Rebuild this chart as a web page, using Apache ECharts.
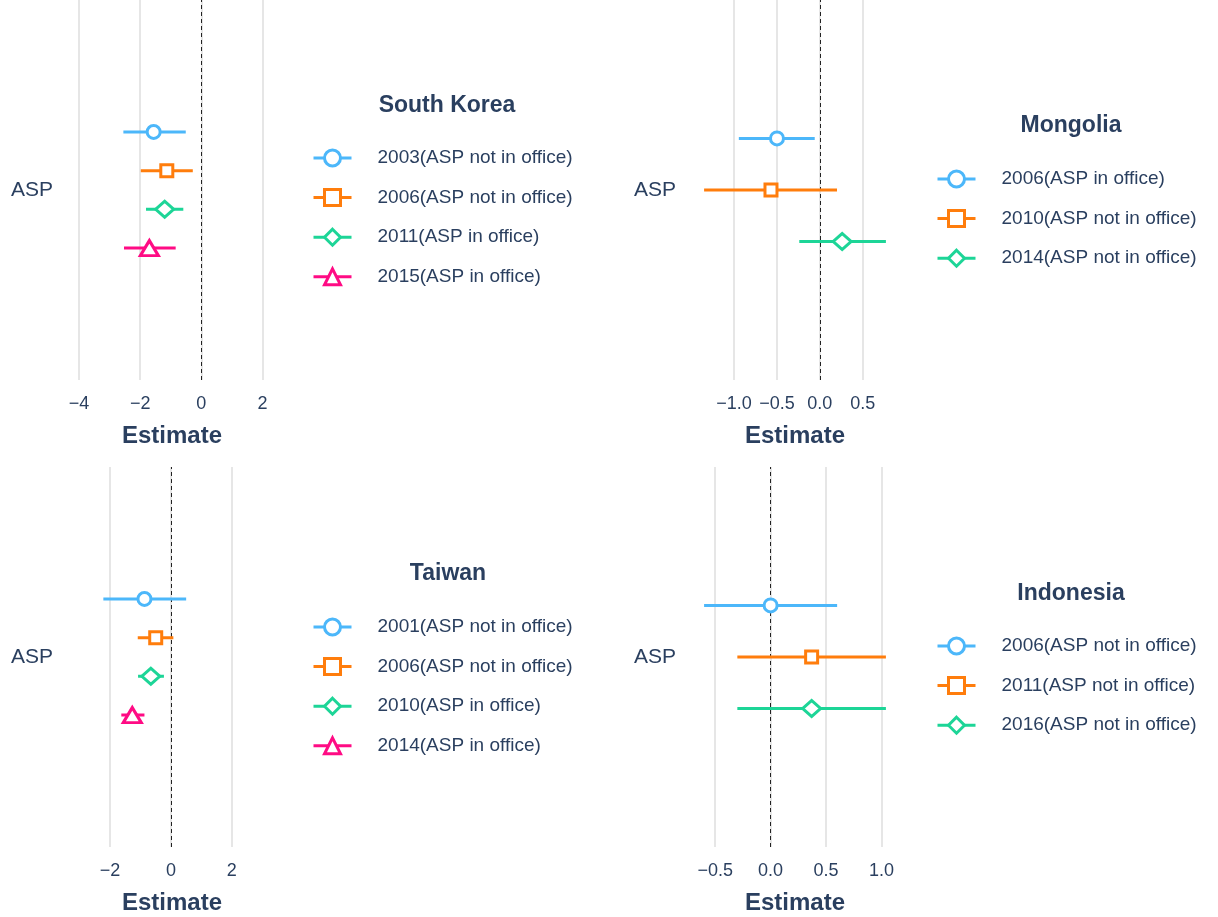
<!DOCTYPE html>
<html>
<head>
<meta charset="utf-8">
<title>ASP estimates by election year</title>
<script src="https://cdn.jsdelivr.net/npm/echarts@6/dist/echarts.min.js"></script>
<style>
  html, body { margin: 0; padding: 0; background: #fff; }
  #chart { width: 1218px; height: 917px; }
</style>
</head>
<body>
<div id="chart"></div>
<script>
// ---- Estimates with confidence intervals, one set per country ----
const skYears = ['2003(ASP not in office)', '2006(ASP not in office)', '2011(ASP in office)', '2015(ASP in office)'];
const skEst   = [-1.56, -1.13, -1.20, -1.70];
const skLow   = [-2.55, -1.98, -1.81, -2.53];
const skHigh  = [-0.51, -0.28, -0.59, -0.84];

const mnYears = ['2006(ASP in office)', '2010(ASP not in office)', '2014(ASP not in office)'];
const mnEst   = [-0.50, -0.57, 0.26];
const mnLow   = [-0.945, -1.35, -0.24];
const mnHigh  = [-0.06, 0.20, 0.77];

const twYears = ['2001(ASP not in office)', '2006(ASP not in office)', '2010(ASP in office)', '2014(ASP in office)'];
const twEst   = [-0.87, -0.50, -0.66, -1.27];
const twLow   = [-2.22, -1.09, -1.08, -1.63];
const twHigh  = [0.50, 0.08, -0.23, -0.87];

const idYears = ['2006(ASP not in office)', '2011(ASP not in office)', '2016(ASP not in office)'];
const idEst   = [0.00, 0.37, 0.37];
const idLow   = [-0.60, -0.30, -0.30];
const idHigh  = [0.60, 1.04, 1.04];

const termLabel = 'ASP';
const axisTitle = 'Estimate';

// ---- Styling ----
const FONT = '"Liberation Sans", Arial, Helvetica, sans-serif';
const INK = '#2a3f5f';
const palette = ['#4cb7fa', '#ff7d0c', '#1dd597', '#ff0b84'];
const symbols = ['circle', 'rect', 'diamond', 'triangle'];
const symbolSizes = [13, 12, [18, 16], [18, 15]];
const DODGE = 0.815;   // total vertical spread of the dodged rows, in y-axis units

const panels = [
  { name: 'South Korea', years: skYears, est: skEst, low: skLow, high: skHigh,
    grid: { left: 72, top: 0 }, xRange: [-4.23, 2.31], step: 2, dec: 0,
    legend: { left: 312, top: 148 }, title: { x: 447, y: 106 } },
  { name: 'Mongolia', years: mnYears, est: mnEst, low: mnLow, high: mnHigh,
    grid: { left: 695, top: 0 }, xRange: [-1.456, 0.876], step: 0.5, dec: 1,
    legend: { left: 936, top: 169 }, title: { x: 1071, y: 126 } },
  { name: 'Taiwan', years: twYears, est: twEst, low: twLow, high: twHigh,
    grid: { left: 72, top: 467 }, xRange: [-3.25, 3.32], step: 2, dec: 0,
    legend: { left: 312, top: 617 }, title: { x: 448, y: 574 } },
  { name: 'Indonesia', years: idYears, est: idEst, low: idLow, high: idHigh,
    grid: { left: 695, top: 467 }, xRange: [-0.682, 1.122], step: 0.5, dec: 1,
    legend: { left: 936, top: 636 }, title: { x: 1071, y: 594 } }
];

function fmtTick(v, dec) {
  const s = Math.abs(v).toFixed(dec);
  return (v < -1e-9 ? '\u2212' : '') + s;
}

const option = {
  animation: false,
  backgroundColor: '#fff',
  textStyle: { fontFamily: FONT, color: INK },
  title: [], legend: [], grid: [], xAxis: [], yAxis: [], series: []
};

panels.forEach((p, pi) => {
  option.grid.push({ left: p.grid.left, top: p.grid.top, width: 200, height: 380, containLabel: false });

  option.xAxis.push({
    type: 'value', gridIndex: pi,
    min: p.xRange[0], max: p.xRange[1],
    minInterval: p.step, maxInterval: p.step,
    axisLine: { show: false }, axisTick: { show: false },
    splitLine: { show: true, showMinLine: false, showMaxLine: false,
      lineStyle: { color: '#e6e6e6', width: 2 } },
    axisLabel: { showMinLabel: false, showMaxLabel: false, margin: 15,
      fontSize: 18, color: INK, fontFamily: FONT,
      formatter: v => fmtTick(v, p.dec) },
    name: axisTitle, nameLocation: 'middle', nameGap: 44,
    nameTextStyle: { fontSize: 24, fontWeight: 'bold', color: INK, fontFamily: FONT }
  });

  option.yAxis.push({
    type: 'value', gridIndex: pi, min: -1, max: 1, interval: 1,
    axisLine: { show: false }, axisTick: { show: false }, splitLine: { show: false },
    axisLabel: { margin: 19, fontSize: 21, color: INK, fontFamily: FONT,
      formatter: v => (v === 0 ? termLabel : '') }
  });

  option.title.push({
    text: p.name, left: p.title.x, top: p.title.y - 12, textAlign: 'center', padding: 0,
    textStyle: { fontSize: 23, fontWeight: 'bold', color: INK, fontFamily: FONT }
  });

  const n = p.years.length;
  const names = [];
  p.years.forEach((yr, i) => {
    const yy = ((n - 1) / 2 - i) * DODGE / n;
    const sName = p.name + '|' + yr;
    names.push(sName);
    const s = {
      type: 'line', name: sName, xAxisIndex: pi, yAxisIndex: pi,
      symbol: symbols[i], symbolSize: symbolSizes[i],
      silent: true, z: 3,
      lineStyle: { color: palette[i], width: 3 },
      itemStyle: { color: '#fff', borderColor: palette[i], borderWidth: 3 },
      data: [
        { value: [p.low[i], yy], symbol: 'none' },
        [p.est[i], yy],
        { value: [p.high[i], yy], symbol: 'none' }
      ]
    };
    if (i === 0) {
      s.markLine = {
        silent: true, symbol: 'none', label: { show: false }, z: 2,
        lineStyle: { color: '#222', type: [4, 3], width: 1 },
        data: [{ xAxis: 0 }]
      };
    }
    option.series.push(s);
  });

  option.legend.push({
    orient: 'vertical', left: p.legend.left, top: p.legend.top, padding: 0,
    itemWidth: 38, itemHeight: 20, itemGap: 19.6,
    selectedMode: false,
    data: names,
    lineStyle: { width: 3 },
    itemStyle: { borderWidth: 3 },
    formatter: nm => nm.slice(nm.indexOf('|') + 1),
    textStyle: { fontSize: 19, lineHeight: 20, color: INK, fontFamily: FONT, padding: [0, 0, 0, 21] }
  });
});

const chart = echarts.init(document.getElementById('chart'), null, { renderer: 'canvas' });
chart.setOption(option);
</script>
</body>
</html>
